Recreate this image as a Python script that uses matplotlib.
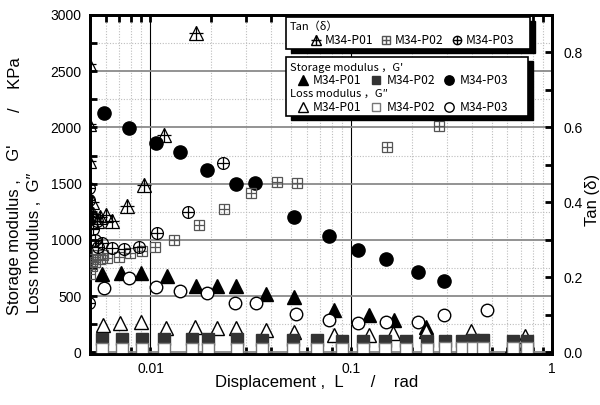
import matplotlib
matplotlib.use("Agg")
import matplotlib.pyplot as plt
import matplotlib.ticker as mticker
from matplotlib.lines import Line2D
from matplotlib.legend import Legend
from matplotlib.patches import Rectangle
from matplotlib.font_manager import FontProperties

# ---------------- data ----------------
# Storage modulus G' (KPa)
gs_p01_x = [0.00575, 0.0071, 0.0090, 0.0121, 0.0169, 0.0215, 0.0268, 0.0378, 0.0516,
            0.0817, 0.123, 0.164, 0.236, 0.39, 0.63]
gs_p01 = [694, 704, 703, 676, 587, 587, 590, 521, 491, 379, 328, 283, 223, 105, 60]

gs_p02_x = [0.00575, 0.00723, 0.00909, 0.01167, 0.01613, 0.01944, 0.0270, 0.0361, 0.0510,
            0.0677, 0.0904, 0.1151, 0.1476, 0.1877, 0.2380, 0.2936, 0.3554, 0.4059,
            0.4552, 0.640, 0.755]
gs_p02 = [118, 118, 118, 116, 114, 116, 114, 112, 110, 106, 104, 102, 100, 100, 100, 102,
          104, 108, 108, 104, 102]

gs_p03_x = [0.00586, 0.00783, 0.01067, 0.0140, 0.0192, 0.0266, 0.0332, 0.052, 0.0771,
            0.1087, 0.149, 0.214, 0.290]
gs_p03 = [2129, 1994, 1861, 1781, 1620, 1495, 1504, 1200, 1033, 908, 828, 712, 631]

# Loss modulus G'' (KPa)
gl_p01_x = [0.00579, 0.00704, 0.0090, 0.0120, 0.0167, 0.0215, 0.0268, 0.0378, 0.0516,
            0.0817, 0.122, 0.162, 0.236, 0.394, 0.73]
gl_p01 = [245, 259, 265, 212, 229, 214, 214, 200, 179, 158, 155, 170, 188, 188, 149]

gl_p02_x = gs_p02_x
gl_p02 = [28, 28, 28, 28, 28, 28, 28, 28, 28, 30, 30, 30, 32, 32, 32, 34, 36, 38, 38,
          42, 42]

gl_p03_x = [0.00586, 0.00783, 0.01067, 0.0140, 0.0191, 0.0265, 0.0336, 0.0528, 0.0771,
            0.1087, 0.1496, 0.216, 0.290, 0.473]
gl_p03 = [575, 664, 581, 545, 530, 435, 438, 343, 283, 259, 268, 271, 328, 379]

# Tan(delta)
tan_p01_x = [0.00497, 0.00497, 0.00497, 0.0051, 0.0052, 0.0054, 0.0056, 0.00603, 0.00645,
             0.0076, 0.00926, 0.01165, 0.01694]
tan_p01 = [0.77, 0.61, 0.51, 0.40, 0.37, 0.35, 0.36, 0.367, 0.349, 0.389, 0.447, 0.580,
           0.851]

tan_p02_x = [0.00500, 0.0051, 0.0052, 0.0053, 0.0054, 0.0056, 0.0058, 0.0061, 0.00695,
             0.00795, 0.0091, 0.01059, 0.01315, 0.0174, 0.0232, 0.0317, 0.0427, 0.0537,
             0.1507, 0.275]
tan_p02 = [0.21, 0.23, 0.25, 0.24, 0.26, 0.25, 0.26, 0.251, 0.255, 0.264, 0.271, 0.280,
           0.300, 0.339, 0.383, 0.426, 0.455, 0.451, 0.549, 0.604]

tan_p03_x = [0.00497, 0.00497, 0.00497, 0.0051, 0.0052, 0.0053, 0.0054, 0.0055, 0.00575,
             0.00645, 0.00736, 0.00875, 0.0108, 0.01535, 0.0229]
tan_p03 = [0.438, 0.407, 0.132, 0.36, 0.33, 0.30, 0.35, 0.28, 0.291, 0.278, 0.275,
           0.281, 0.318, 0.373, 0.506]

series_names = ["M34-P01", "M34-P02", "M34-P03"]
x_ticks = [0.01, 0.1, 1]

# ---------------- style ----------------
LATIN = ["Liberation Sans", "DejaVu Sans"]
CJK = ["Noto Sans CJK JP", "DejaVu Sans"]
leg_fp = FontProperties(family=CJK, size=8.7)
title_fp = FontProperties(family=CJK, size=8)
DARK = "#333333"
GRAYSQ = "#555555"

fig = plt.figure(figsize=(6, 4.05), dpi=100)
ax = fig.add_axes([0.15, 0.126, 0.77, 0.837])
ax2 = ax.twinx()

ax.set_xscale("log")
ax.set_xlim(0.005, 1)
ax.set_ylim(-15, 3000)
ax2.set_ylim(-0.0045, 0.9)

# grid
ax.set_axisbelow(True)
ax.yaxis.set_major_locator(mticker.MultipleLocator(500))
ax.yaxis.set_minor_locator(mticker.MultipleLocator(250))
ax.xaxis.set_major_locator(mticker.FixedLocator(x_ticks))
ax.xaxis.set_minor_locator(mticker.LogLocator(base=10, subs=range(2, 10), numticks=20))
ax.xaxis.set_major_formatter(mticker.FuncFormatter(lambda v, p: f"{v:g}"))
ax.xaxis.set_minor_formatter(mticker.NullFormatter())
ax.grid(axis="y", which="major", color="#8a8a8a", lw=1.3, ls="-")
ax.grid(axis="y", which="minor", color="#bdbdbd", lw=0.8, ls=(0, (1, 1.5)))
ax.grid(axis="x", which="major", color="black", lw=0.8, ls="-")
ax.grid(axis="x", which="minor", color="#bdbdbd", lw=0.8, ls=(0, (1, 1.5)))

ax2.yaxis.set_major_locator(mticker.MultipleLocator(0.2))
ax2.yaxis.set_minor_locator(mticker.MultipleLocator(0.1))
ax2.yaxis.set_major_formatter(mticker.FormatStrFormatter("%.1f"))

for a in (ax, ax2):
    for s in a.spines.values():
        s.set_linewidth(2)
ax.tick_params(which="both", direction="in", length=5, width=2, top=True, right=False,
               labelsize=10, pad=6)
ax2.tick_params(which="both", direction="in", length=5, width=2, labelsize=10, pad=8)
for lab in ax.get_xticklabels() + ax.get_yticklabels() + ax2.get_yticklabels():
    lab.set_family(LATIN)

# ---------------- marks ----------------
ax.plot(gs_p01_x, gs_p01, ls="none", marker="^", ms=9.5, mfc="black", mec="black", zorder=3)
ax.plot(gl_p01_x, gl_p01, ls="none", marker="^", ms=9.5, mfc="white", mec="black", mew=1, zorder=3)
ax.plot(gs_p02_x, gs_p02, ls="none", marker="s", ms=8, mfc=DARK, mec=DARK, zorder=3)
ax.plot(gl_p02_x, gl_p02, ls="none", marker="s", ms=8, mfc="white", mec="#777777", mew=1, zorder=3)
ax.plot(gs_p03_x, gs_p03, ls="none", marker="o", ms=9.5, mfc="black", mec="black", zorder=3)
ax.plot(gl_p03_x, gl_p03, ls="none", marker="o", ms=9, mfc="white", mec="black", mew=1, zorder=3)


def tan_plot(x, y, m, ms, col):
    ax2.plot(x, y, ls="none", marker=m, ms=ms, mfc="none", mec=col, mew=0.9, zorder=3)
    ax2.plot(x, y, ls="none", marker="+", ms=ms, mec=col, mew=0.9, zorder=3)


tan_plot(tan_p01_x, tan_p01, "^", 10, "black")
tan_plot(tan_p02_x, tan_p02, "s", 7.5, GRAYSQ)
tan_plot(tan_p03_x, tan_p03, "o", 8.5, "black")

# ---------------- axis labels ----------------
fig.text(317 / 600, 1 - 383 / 405, "Displacement ,  L      /    rad", ha="center",
         va="center", fontsize=12, family=LATIN)
fig.text(15 / 600, 1 - 315 / 405, "Storage modulus ,    G'", rotation=90,
         ha="center", va="bottom", fontsize=12, family=LATIN)
fig.text(15 / 600, 1 - 57 / 405, "/    KPa", rotation=90,
         ha="center", va="top", fontsize=12, family=LATIN)
fig.text(35 / 600, 1 - 313 / 405, "Loss modulus ,  G\u2033", rotation=90,
         ha="center", va="bottom", fontsize=12, family=LATIN)
fig.text(592 / 600, 1 - 200 / 405, "Tan (\u03b4)", rotation=90, ha="center", va="center",
         fontsize=12, family=LATIN)


# ---------------- legends ----------------
def H(m, ms, fc, ec, plus=False, mew=1.0):
    base = Line2D([], [], ls="none", marker=m, ms=ms, mfc=fc, mec=ec, mew=mew)
    if plus:
        return (base, Line2D([], [], ls="none", marker="+", ms=ms, mec=ec, mew=mew))
    return base


def fx(px):  # pixel column -> axes fraction
    return (px - 90) / 462


def fy(py):  # pixel row -> axes fraction
    return (354 - py) / 339


def framed_box(x0, y0, x1, y1, z):
    sh = Rectangle((fx(x0 + 5), fy(y1 + 4)), fx(x1) - fx(x0), fy(y0) - fy(y1),
                   transform=ax2.transAxes, fc="black", ec="black", zorder=z,
                   clip_on=False)
    bx = Rectangle((fx(x0), fy(y1)), fx(x1) - fx(x0), fy(y0) - fy(y1),
                   transform=ax2.transAxes, fc="white", ec="black", lw=1.2,
                   zorder=z + 0.1, clip_on=False)
    ax2.add_patch(sh)
    ax2.add_patch(bx)


def title(px, py, s):
    ax2.text(fx(px), fy(py), s, transform=ax2.transAxes, ha="left", va="center",
             fontproperties=title_fp, zorder=9)


def entries(handles, px_left, py, hl, pad, cs, mscale=0.75):
    lg = Legend(ax2, handles, series_names, ncol=3, loc="center left",
                bbox_to_anchor=(fx(px_left), fy(py)), bbox_transform=ax2.transAxes,
                frameon=False, borderpad=0, borderaxespad=0, handlelength=hl,
                handletextpad=pad, columnspacing=cs, prop=leg_fp, markerscale=mscale)
    lg.set_zorder(9)
    ax2.add_artist(lg)
    return lg


# Tan legend
framed_box(286, 17, 530, 49, 7)
title(290, 27, "Tan\uff08\u03b4\uff09")
entries([H("^", 8.5, "none", "black", True), H("s", 7, "none", GRAYSQ, True),
         H("o", 7.5, "none", "black", True)], 311, 41, 0.75, 0.35, 0.75, 0.8)

# modulus legend
framed_box(286, 57, 528, 116, 7)
title(290, 68, "Storage modulus \uff0cG'")
entries([H("^", 9, "black", "black"), H("s", 7, DARK, DARK),
         H("o", 9, "black", "black")], 298, 81, 0.8, 0.45, 0.8)
title(290, 94, "Loss modulus \uff0cG\u2033")
entries([H("^", 9, "white", "black"), H("s", 7, "white", "#777777"),
         H("o", 9, "white", "black")], 298, 107.5, 0.8, 0.45, 0.8)

fig.savefig("out.png", dpi=100)
